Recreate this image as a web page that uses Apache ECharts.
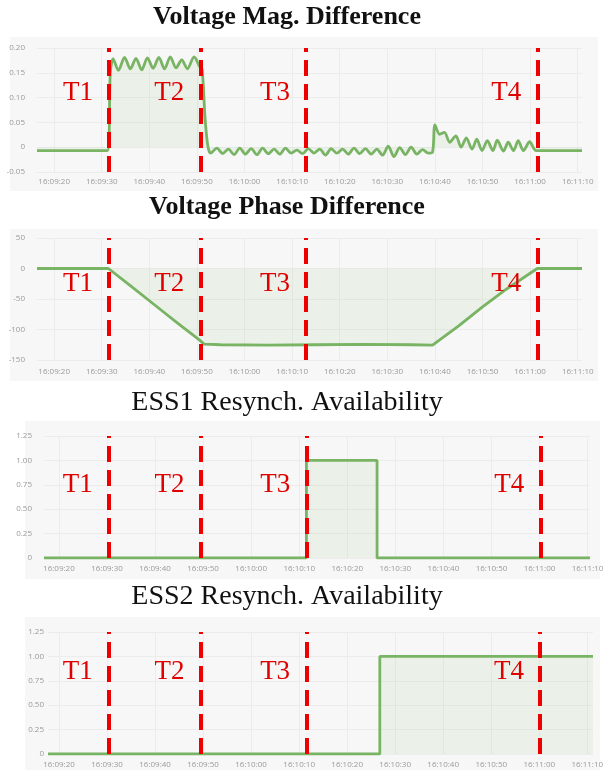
<!DOCTYPE html>
<html>
<head>
<meta charset="UTF-8">
<title>Resynch charts</title>
<script src="https://cdn.jsdelivr.net/npm/echarts@6/dist/echarts.min.js"></script>
<style>
  html, body { margin: 0; padding: 0; background: #fff; }
  #main { width: 608px; height: 770px; }
</style>
</head>
<body>
<div id="main"></div>
<script>
// all times are seconds after 16:09:00
var tickTimes = [20, 30, 40, 50, 60, 70, 80, 90, 100, 110, 120, 130];

var titles = ['Voltage Mag. Difference', 'Voltage Phase Difference',
              'ESS1 Resynch. Availability', 'ESS2 Resynch. Availability'];

var magDiff = [
  [16.4, -0.007], [31.2, -0.007], [31.8, 0.150], [32.4, 0.178], [33.5, 0.155],
  [34.8, 0.181], [36.0, 0.158], [37.2, 0.179], [38.4, 0.156], [39.6, 0.180],
  [40.8, 0.159], [42.0, 0.181], [43.2, 0.158], [44.4, 0.182], [45.6, 0.160],
  [46.8, 0.176], [48.0, 0.158], [49.4, 0.182], [50.6, 0.162], [51.1, 0.157],
  [51.7, 0.060], [52.3, 0.002], [52.9, -0.012], [54.2, -0.002], [55.4, -0.013],
  [56.6, -0.004], [57.8, -0.015], [59.0, -0.002], [60.2, -0.014], [61.4, -0.003],
  [62.6, -0.015], [63.8, -0.002], [65.0, -0.013], [66.2, -0.004], [67.4, -0.014],
  [68.6, -0.002], [69.8, -0.012], [71.0, -0.006], [72.2, -0.013], [73.4, -0.003],
  [74.6, -0.012], [75.8, -0.004], [77.0, -0.016], [78.2, -0.003], [79.4, -0.012],
  [80.6, -0.004], [81.8, -0.014], [83.0, -0.002], [84.2, -0.013], [85.4, -0.003],
  [86.6, -0.014], [87.8, -0.004], [89.0, -0.016], [90.2, 0.002], [91.4, -0.019],
  [92.6, -0.001], [93.8, -0.015], [95.0, 0.000], [96.2, -0.014], [97.4, -0.005],
  [98.6, -0.012], [99.5, -0.010], [100.0, 0.045], [101.0, 0.026], [102.0, 0.030],
  [103.1, 0.010], [104.4, 0.023], [105.5, 0.000], [106.6, 0.019], [107.8, -0.004],
  [108.8, 0.016], [109.9, -0.007], [111.0, 0.013], [112.2, -0.007], [113.1, 0.014],
  [114.4, -0.008], [115.4, 0.010], [116.5, -0.007], [117.5, 0.013], [118.6, -0.007],
  [119.9, 0.011], [121.3, -0.007], [130.9, -0.007]
];

var phaseDiff = [
  [16.4, 0], [31.4, 0], [36, -28], [41, -59], [46, -90], [50.5, -117], [51.5, -124],
  [55, -125], [65, -125.5], [75, -125], [85, -124.5], [95, -125], [99.5, -125.5],
  [105, -94], [110, -63], [115, -34], [121.5, 0], [130.9, 0]
];

var ess1 = [[16.9, 0], [71.5, 0], [71.5, 1], [86.2, 1], [86.2, 0], [130.5, 0]];
var ess2 = [[17.7, 0], [86.8, 0], [86.8, 1], [131.2, 1]];

var tNames = ['T1', 'T2', 'T3', 'T4'];
var tLinesTop = [31.5, 50.7, 72.9, 121.5];     // panels 1 and 2
var tLinesBottom = [30.4, 49.5, 71.5, 120.2];  // panels 3 and 4
var tLabelY = [0.11, -25, 0.75, 0.84];

var panels = [
  { data: magDiff,   tl: tLinesTop,    min: 16.4, max: 130.9, ymin: -0.05, ymax: 0.20, step: 0.05,
    left: 37, right: 26, top: 48,  height: 124, ylm: 12, xlm: 6, smooth: 0.3, titleTop: 4, bold: true },
  { data: phaseDiff, tl: tLinesTop,    min: 16.4, max: 130.9, ymin: -150, ymax: 50, step: 50,
    left: 37, right: 26, top: 238, height: 122, ylm: 12, xlm: 8, smooth: false, titleTop: 194, bold: true },
  { data: ess1,      tl: tLinesBottom, min: 16.9, max: 130.5, ymin: 0, ymax: 1.25, step: 0.25,
    left: 44, right: 18, top: 436, height: 122, ylm: 12, xlm: 7, smooth: false, titleTop: 389, bold: false },
  { data: ess2,      tl: tLinesBottom, min: 17.7, max: 131.2, ymin: 0, ymax: 1.25, step: 0.25,
    left: 48, right: 15, top: 632, height: 122, ylm: 4, xlm: 7, smooth: false, titleTop: 583, bold: false }
];

function fmtTime(v) {
  var s = Math.round(v);
  var m = 9 + Math.floor(s / 60);
  var h = 16 + Math.floor(m / 60);
  m = m % 60; s = s % 60;
  return h + ':' + (m < 10 ? '0' : '') + m + ':' + (s < 10 ? '0' : '') + s;
}

var myChart = echarts.init(document.getElementById('main'));

var option = {
  animation: false,
  backgroundColor: '#fff',
  title: [], grid: [], xAxis: [], yAxis: [], series: [],
  graphic: [
    { type: 'rect', z: -10, shape: { x: 10, y: 37,  width: 588, height: 154 }, style: { fill: '#f7f7f7' } },
    { type: 'rect', z: -10, shape: { x: 10, y: 229, width: 588, height: 152 }, style: { fill: '#f7f7f7' } },
    { type: 'rect', z: -10, shape: { x: 25, y: 421, width: 575, height: 158 }, style: { fill: '#f7f7f7' } },
    { type: 'rect', z: -10, shape: { x: 25, y: 617, width: 575, height: 153 }, style: { fill: '#f7f7f7' } }
  ]
};

panels.forEach(function (p, i) {
  option.title.push({
    text: titles[i], left: 287, top: p.titleTop, textAlign: 'center', padding: 0,
    textStyle: { fontFamily: 'Liberation Serif', fontSize: p.bold ? 26 : 28,
                 fontWeight: p.bold ? 'bold' : 'normal', color: '#111' }
  });
  option.grid.push({ left: p.left, right: p.right, top: p.top, height: p.height });
  option.xAxis.push({
    type: 'value', gridIndex: i, min: p.min, max: p.max,
    axisLine: { show: false }, axisTick: { show: false, customValues: tickTimes },
    axisLabel: { customValues: tickTimes, formatter: fmtTime, color: '#9a9a9a',
                 fontSize: 8, fontFamily: 'Open Sans', margin: p.xlm },
    splitLine: { show: true, lineStyle: { color: '#ececec' } }
  });
  option.yAxis.push({
    type: 'value', gridIndex: i, min: p.ymin, max: p.ymax, interval: p.step,
    axisLine: { show: false }, axisTick: { show: false },
    axisLabel: {
      color: '#9a9a9a', fontSize: 8, fontFamily: 'Open Sans', margin: p.ylm,
      formatter: function (v) {
        if (Math.abs(v) < 1e-9) return '0';
        return p.step < 1 ? v.toFixed(2) : String(Math.round(v));
      }
    },
    splitLine: { lineStyle: { color: '#ececec' } }
  });
  option.series.push({
    type: 'line', xAxisIndex: i, yAxisIndex: i, data: p.data,
    showSymbol: false, smooth: p.smooth,
    lineStyle: { color: '#78b463', width: 2.8 },
    areaStyle: { color: 'rgba(120,180,99,0.13)' },
    markLine: {
      silent: true, symbol: 'none', label: { show: false },
      lineStyle: { color: '#ee0000', width: 4, type: [16, 8] },
      data: p.tl.map(function (t) { return { xAxis: t }; })
    },
    markPoint: {
      silent: true, symbol: 'rect', symbolSize: 0,
      label: { show: true, position: 'inside', color: '#e00000',
               fontFamily: 'Liberation Serif', fontSize: 27 },
      data: p.tl.map(function (t, k) {
        return { coord: [t - 6.5, tLabelY[i]], value: tNames[k],
                 label: { formatter: tNames[k] } };
      })
    }
  });
});

myChart.setOption(option);
</script>
</body>
</html>
